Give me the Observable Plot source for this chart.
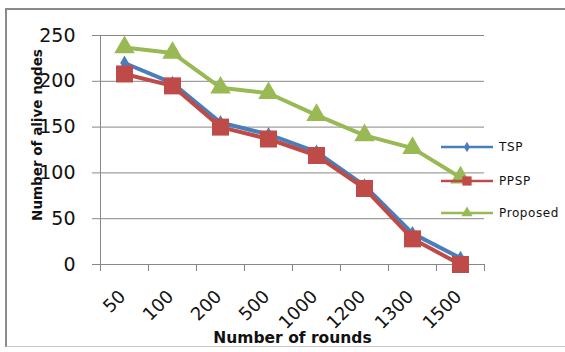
<!DOCTYPE html>
<html>
<head>
<meta charset="utf-8">
<script src="https://cdn.jsdelivr.net/npm/d3@7"></script>
<script src="https://cdn.jsdelivr.net/npm/@observablehq/plot@0.6"></script>
<style>
  body { margin: 0; background: #fff; }
  #wrap { position: relative; width: 565px; height: 352px; overflow: hidden; font-family: "DejaVu Sans", Verdana, sans-serif; }
  #border { position: absolute; left: 5px; top: 8px; width: 600px; height: 339px; box-sizing: border-box;
            border-top: 2px solid #8a8a8a; border-left: 2px solid #8a8a8a; border-bottom: 1px solid #c8c8c8; }
  #chart { position: absolute; left: 0; top: 0; }
  #legend { position: absolute; left: 0; top: 0; }
</style>
</head>
<body>
<div id="wrap">
  <div id="border"></div>
  <div id="chart"></div>
  <div id="legend"></div>
</div>
<script>
// Alive nodes per round for each protocol
const rounds = ["50", "100", "200", "500", "1000", "1200", "1300", "1500"];
const tsp = [220, 198, 155, 142, 123, 86, 34, 7];
const ppsp = [208, 195, 150, 137, 119, 83, 28, 0];
const proposed = [237, 231, 193, 187, 163, 141, 127, 95];
const yTicks = [0, 50, 100, 150, 200, 250];
const seriesNames = ["TSP", "PPSP", "Proposed"];
const seriesValues = [tsp, ppsp, proposed];

const colors = ["#4A7EBB", "#BE4B48", "#98B954"];
const symbols = ["diamond", "square", "triangle"];
const radii = [4.5, 9.6, 7.6];

const W = 565, H = 352;
const mL = 100, mR = 81, mT = 35, mB = 88;
const step = (W - mL - mR) / rounds.length;

const rows = seriesNames.flatMap((s, k) =>
  rounds.map((r, i) => ({series: s, round: r, value: seriesValues[k][i]})));

const gridColor = "#878787";

const chart = Plot.plot({
  width: W, height: H,
  marginLeft: mL, marginRight: mR, marginTop: mT, marginBottom: mB,
  style: {fontFamily: "DejaVu Sans, Verdana, sans-serif", background: "transparent", color: "#111"},
  x: {type: "point", domain: rounds, padding: 0.5},
  y: {domain: [0, 250]},
  marks: [
    Plot.gridY(yTicks, {stroke: gridColor, strokeOpacity: 1}),
    // vertical axis line at the left edge of the first band
    Plot.ruleX([rounds[0]], {y1: 0, y2: 250, dx: -step / 2, stroke: gridColor}),
    // horizontal axis line
    Plot.ruleY([0], {stroke: gridColor}),
    // category boundary ticks below the axis
    Plot.ruleX(rounds, {y1: 0, y2: 0, dx: -step / 2, insetBottom: -7, stroke: gridColor}),
    Plot.ruleX([rounds[rounds.length - 1]], {y1: 0, y2: 0, dx: step / 2, insetBottom: -7, stroke: gridColor}),
    Plot.axisY(yTicks, {tickSize: 8, tickPadding: 17, fontSize: 19, stroke: gridColor, label: null}),
    Plot.axisX({tickSize: 0, tickPadding: 29, tickRotate: -45, fontSize: 18, dx: -2, label: null}),
    ...seriesNames.map((s, k) => [
      Plot.line(rows.filter(d => d.series === s), {x: "round", y: "value", stroke: colors[k], strokeWidth: 4}),
      Plot.dot(rows.filter(d => d.series === s), {x: "round", y: "value", fill: colors[k], symbol: symbols[k], r: radii[k], stroke: "none"})
    ]).flat(),
    Plot.text(["Number of rounds"], {text: d => d, frameAnchor: "bottom", dy: 78, fontWeight: "bold", fontSize: 15.5}),
    Plot.text(["Number of alive nodes"], {text: d => d, frameAnchor: "left", textAnchor: "middle", dx: -63, dy: -15, rotate: -90, fontWeight: "bold", fontSize: 13.5})
  ]
});
document.getElementById("chart").appendChild(chart);

// Legend drawn on top of the plot area
const leg = d3.select("#legend").append("svg").attr("width", W).attr("height", H);
const legY = [147, 181, 213];
seriesNames.forEach((s, k) => {
  const g = leg.append("g").attr("transform", `translate(441,${legY[k]})`);
  g.append("line").attr("x1", 0).attr("x2", 52).attr("stroke", colors[k]).attr("stroke-width", 2.5);
  const sym = {diamond: d3.symbolDiamond, square: d3.symbolSquare, triangle: d3.symbolTriangle}[symbols[k]];
  const rr = k === 1 ? 5.2 : (k === 0 ? 3.2 : 4.2);
  g.append("path").attr("transform", "translate(26,0)").attr("d", d3.symbol(sym, Math.PI * rr * rr)()).attr("fill", colors[k]);
  g.append("text").attr("x", 58).attr("dy", "0.35em").attr("font-size", 12).attr("letter-spacing", 0.6)
    .attr("font-family", "DejaVu Sans, Verdana, sans-serif").attr("fill", "#111").text(s);
});
</script>
</body>
</html>
